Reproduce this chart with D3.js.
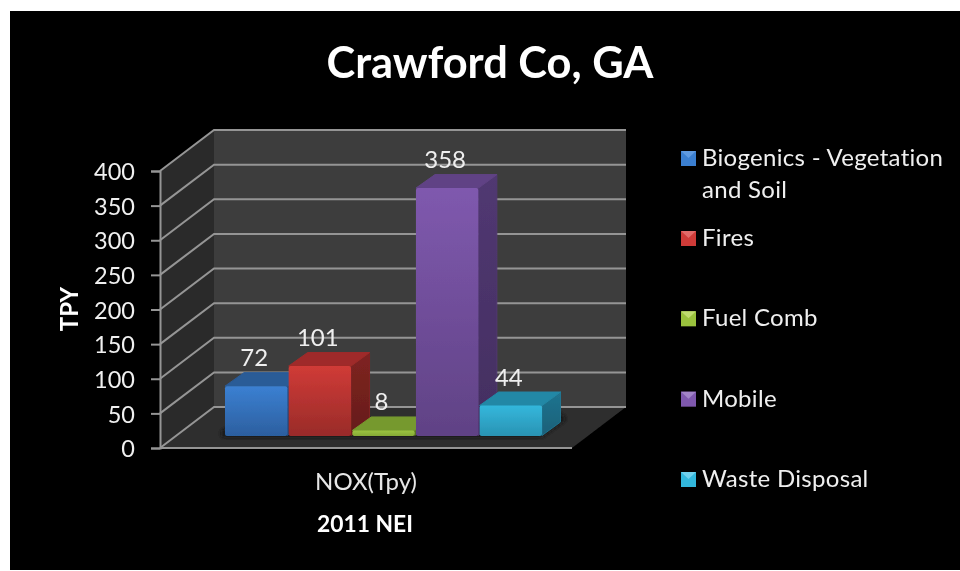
<!DOCTYPE html>
<html><head><meta charset="utf-8">
<script src="https://cdn.jsdelivr.net/npm/d3@7/dist/d3.min.js"></script>
<style>html,body{margin:0;padding:0;background:#fff}svg{display:block}text{font-family:Lato,"Open Sans",sans-serif}</style>
</head><body><svg id="c" width="960" height="571"></svg>
<script>
const categories = ["Biogenics - Vegetation|and Soil","Fires","Fuel Comb","Mobile","Waste Disposal"];
const values = [72,101,8,358,44];
const yTicks = [0,50,100,150,200,250,300,350,400];
const frontColors = [["#3b80d2","#2c5f9f"],["#d03b37","#992b29"],["#9cc540","#86aa36"],["#7f59ae","#604285"],["#33b7dc","#2a93b3"]];
const topColors = ["#2a5b97","#9f2c29","#76992e","#604385","#2288a6"];
const sideColors = [["#24508a","#1d4272"],["#7f2421","#651c1a"],["#5f7c25","#55701f"],["#513872","#432e60"],["#207490","#1a6078"]];
const legendColors = [["#3b7fd0","#5f9ae0"],["#cf3a37","#e26a68"],["#9ac23e","#c0dc70"],["#7f59ae","#a284c8"],["#33b7dc","#70d0ec"]];

const svg = d3.select("#c");
const defs = svg.append("defs");
defs.append("filter").attr("id","soft").append("feGaussianBlur").attr("stdDeviation",0.5);
defs.append("filter").attr("id","soft2").append("feGaussianBlur").attr("stdDeviation",2);
const grad=(id,a,b)=>{const g=defs.append("linearGradient").attr("id",id).attr("x1",0).attr("y1",0).attr("x2",0).attr("y2",1);
  g.append("stop").attr("offset",0).attr("stop-color",a);g.append("stop").attr("offset",1).attr("stop-color",b);};
frontColors.forEach((c,i)=>grad("f"+i,c[0],c[1]));
sideColors.forEach((c,i)=>grad("s"+i,c[0],c[1]));

svg.append("rect").attr("x",10).attr("y",11).attr("width",950).attr("height",559).attr("fill","#000");
const root = svg.append("g").attr("filter","url(#soft)");

// 3D frame
const x0=160,x1=572,yBase=448,yTop=171,depthX=54,depthY=-41;
const y=d3.scaleLinear().domain([0,400]).range([yBase,yTop]);
const poly=(pts,fill)=>root.append("polygon").attr("points",pts.map(p=>p.join(",")).join(" ")).attr("fill",fill);
poly([[x0+depthX,yTop+depthY],[x1+depthX,yTop+depthY],[x1+depthX,yBase+depthY],[x0+depthX,yBase+depthY]],"#3e3e3e");
poly([[x0,yTop],[x0+depthX,yTop+depthY],[x0+depthX,yBase+depthY],[x0,yBase]],"#2a2a2a");
poly([[x0,yBase],[x0+depthX,yBase+depthY],[x1+depthX,yBase+depthY],[x1,yBase]],"#2e2e2e");

const gridColor="#959595";
yTicks.forEach(t=>{
  root.append("polyline").attr("fill","none").attr("stroke",gridColor).attr("stroke-width",2)
    .attr("points",`${x0},${y(t)} ${x0+depthX},${y(t)+depthY} ${x1+depthX},${y(t)+depthY}`);
});
root.append("line").attr("x1",x0).attr("x2",x1).attr("y1",yBase).attr("y2",yBase).attr("stroke",gridColor).attr("stroke-width",2.2);

// value axis
const ax=root.append("g").attr("transform",`translate(${x0},0)`).call(d3.axisLeft(y).tickValues(yTicks).tickSize(9).tickPadding(16).tickFormat(d3.format("d")));
ax.selectAll("line,path").attr("stroke",gridColor).attr("stroke-width",2);
ax.selectAll("text").attr("fill","#f0f0f0").attr("font-size",23.5).attr("dy","0.37em").style("font-family","Lato");

// bars
const bx=d3.scaleBand().domain(categories).range([225,542]).paddingInner(0.02);
const barBase=436, dX=19, dY=-14;
const h=v=>yBase-y(v);
// floor shadow
root.append("polygon").attr("fill","#161616").attr("filter","url(#soft2)").attr("points",`222,437 541,437 566,419 560,414 222,430`);
values.forEach((v,i)=>{
  const c=categories[i],l=bx(c),r=l+bx.bandwidth(),t=barBase-h(v);
  const g=root.append("g");
  g.append("polygon").attr("fill",`url(#s${i})`).attr("stroke",sideColors[i][0]).attr("stroke-width",1).attr("stroke-linejoin","round")
    .attr("points",`${r},${t} ${r+dX-0.5},${t+dY+0.5} ${r+dX-0.5},${barBase+dY} ${r},${barBase-0.5}`);
  g.append("polygon").attr("fill",topColors[i]).attr("stroke",topColors[i]).attr("stroke-width",1).attr("stroke-linejoin","round")
    .attr("points",`${l},${t} ${l+dX},${t+dY+0.5} ${r+dX-0.5},${t+dY+0.5} ${r},${t}`);
  g.append("rect").attr("x",l).attr("y",t).attr("width",r-l).attr("height",barBase-t).attr("rx",2).attr("fill",`url(#f${i})`);
});
// data labels
values.forEach((v,i)=>{
  const c=categories[i];
  root.append("text").attr("x",bx(c)+bx.bandwidth()/2-2).attr("y",barBase-h(v)+dY-6).attr("text-anchor","middle")
    .attr("fill","#efefef").attr("font-size",24).text(v);
});

// titles
root.append("text").attr("x",490).attr("y",78).attr("text-anchor","middle").attr("fill","#fff").attr("font-size",43.4).attr("font-weight",700).text("Crawford Co, GA");
root.append("text").attr("transform","translate(78,309) rotate(-90)").attr("text-anchor","middle").attr("fill","#fff").attr("font-size",24).attr("font-weight",700).text("TPY");
root.append("text").attr("x",366).attr("y",490).attr("text-anchor","middle").attr("fill","#e6e6e6").attr("font-size",24).text("NOX(Tpy)");
root.append("text").attr("x",365).attr("y",532).attr("text-anchor","middle").attr("fill","#fff").attr("font-size",22.8).attr("font-weight",700).text("2011 NEI");

// legend
const legendY=d3.scalePoint().domain(categories.slice(1)).range([246,487]);
categories.forEach((c,i)=>{
  const lines=c.split("|");
  const by=i===0?166:legendY(c);
  const sx=681, sw=15, st=by-15;
  root.append("rect").attr("x",sx).attr("y",st).attr("width",sw).attr("height",15).attr("fill",legendColors[i][0]);
  root.append("polygon").attr("fill",legendColors[i][1]).attr("points",`${sx},${st} ${sx+sw},${st} ${sx+sw/2},${st+7}`);
  lines.forEach((t,k)=>root.append("text").attr("x",702).attr("y",by+k*32).attr("fill","#efefef").attr("font-size",24).attr("letter-spacing",0.3).text(t));
});
</script></body></html>
